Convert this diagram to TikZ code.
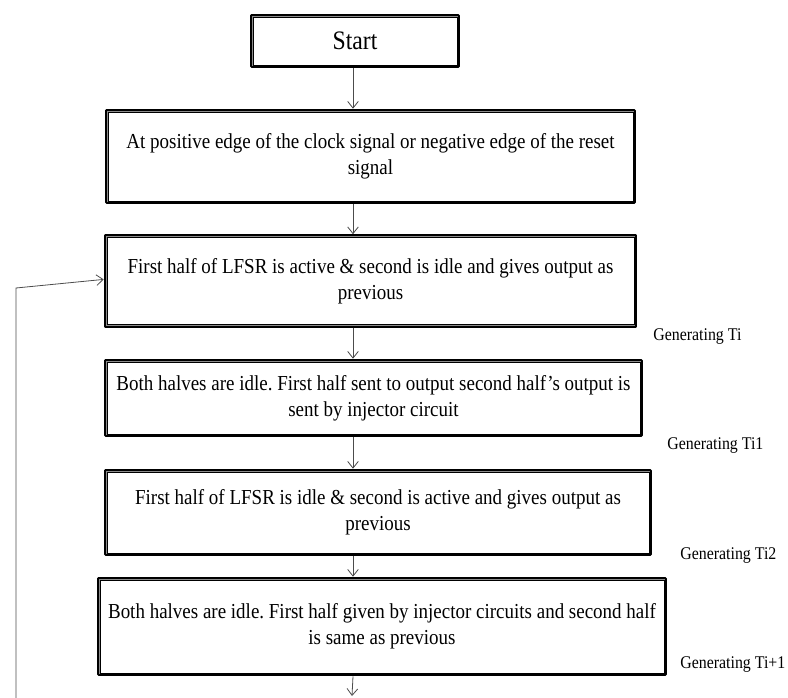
\documentclass[tikz,border=0pt]{standalone}
\usepackage{fontspec}
\setmainfont{Liberation Serif}[FakeStretch=0.89]
\usetikzlibrary{arrows.meta}
\frenchspacing

\begin{document}
\begin{tikzpicture}[x=0.75pt, y=-0.75pt,
		flowbox/.style={draw=black, line width=2.7pt, line join=round, align=center, inner sep=0pt, font=\fontsize{16}{19.5}\selectfont},
		flowline/.style={draw=black!70, line width=0.6pt, -{Straight Barb[length=5pt,width=8pt]}},
		genlabel/.style={anchor=west, inner sep=0pt, font=\fontsize{13.4}{16}\selectfont}]
		\useasboundingbox (0,0) rectangle (788,698);
		
		\node[flowbox, minimum width=155.25pt, minimum height=38.25pt, font=\fontsize{20}{24}\selectfont] (start) at (355,41) {Start};
		\node[flowbox, minimum width=396pt, minimum height=69pt] (edge) at (370.5,156.5) {At positive edge of the clock signal or negative edge of the reset\\signal};
		\node[flowbox, minimum width=397.5pt, minimum height=67.5pt] (half1) at (370.5,281) {First half of LFSR is active \& second is idle and gives output as\\previous};
		\node[flowbox, minimum width=402pt, minimum height=56.25pt] (idle1) at (373.5,398) {Both halves are idle. First half sent to output second half’s output is\\sent by injector circuit};
		\node[flowbox, minimum width=408.75pt, minimum height=63pt] (half2) at (378,512.5) {First half of LFSR is idle \& second is active and gives output as\\previous};
		\node[flowbox, minimum width=425.25pt, minimum height=72pt] (idle2) at (382,626.5) {Both halves are idle. First half given by injector circuits and second half\\is same as previous};
		
		% inner thin border of each box
		\foreach \n in {start,edge,half1,idle1,half2,idle2}{
			\draw[black!45, line width=0.8pt] ([shift={(1.8pt,-1.8pt)}]\n.north west) rectangle ([shift={(-1.8pt,1.8pt)}]\n.south east);
			\draw[black, line width=0.5pt] ([shift={(2.5pt,-2.5pt)}]\n.north west) rectangle ([shift={(-2.5pt,2.5pt)}]\n.south east);
		}
		
		\node[genlabel] (genti) at (653,337) {Generating Ti};
		\node[genlabel] (gentione) at (667,446) {Generating Ti1};
		\node[genlabel] (gentitwo) at (680,556) {Generating Ti2};
		\node[genlabel] (gentinext) at (680,665) {Generating Ti+1};
		
		\coordinate (spine) at (353,0);
		\coordinate (exit) at (352,696);
		\coordinate (loopstart) at (16,698);
		\coordinate (loopturn) at (16,288);
		
		\draw[flowline] (spine |- start.south) -- (spine |- edge.north);
		\draw[flowline] (spine |- edge.south) -- (spine |- half1.north);
		\draw[flowline] (spine |- half1.south) -- (spine |- idle1.north);
		\draw[flowline] (spine |- idle1.south) -- (spine |- half2.north);
		\draw[flowline] (spine |- half2.south) -- (spine |- idle2.north);
		\draw[flowline] (spine |- idle2.south) -- (exit);
		\draw[flowline] (loopstart) -- (loopturn) -- ([yshift=1.2pt]half1.west);
		
\end{tikzpicture}
\end{document}
